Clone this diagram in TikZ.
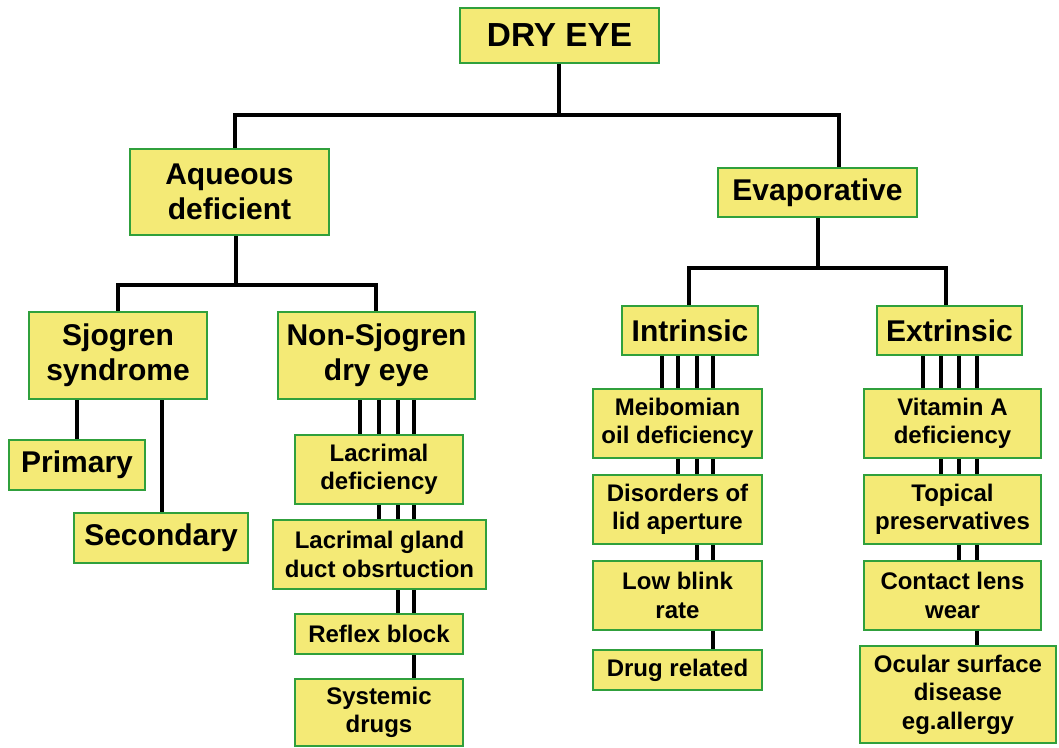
\documentclass[tikz,border=0pt]{standalone}
\usepackage{fontspec}
\setmainfont{Liberation Sans}
\usetikzlibrary{backgrounds}
\definecolor{boxfill}{RGB}{244,234,118}
\definecolor{boxedge}{RGB}{48,160,60}
\tikzset{
  box/.style={draw=boxedge, fill=boxfill, line width=1.5pt, inner sep=0pt, align=center, font=\bfseries},
  big/.style={font=\fontsize{22.5}{26.5}\selectfont\bfseries},
  small/.style={font=\fontsize{18}{21.3}\selectfont\bfseries},
  title/.style={font=\fontsize{25}{30}\selectfont\bfseries},
  conn/.style={line width=3pt, black}
}
\newcommand\bx[7]{\node[box,#7, minimum width={(#4-#2)*0.75pt}, minimum height={(#5-#3)*0.75pt}] (#1) at ({(#2+#4)/2},{(#3+#5)/2}) {#6};}
\begin{document}
\begin{tikzpicture}[x=0.75pt,y=-0.75pt]
\useasboundingbox (0,0) rectangle (1059,747);
\coordinate (j0) at (559,115);
\coordinate (j0l) at (235,115);
\coordinate (j0r) at (839,115);
\coordinate (j1) at (236,285);
\coordinate (j1l) at (118,285);
\coordinate (j1r) at (376,285);
\coordinate (j2) at (818,268);
\coordinate (j2l) at (689,268);
\coordinate (j2r) at (946,268);
% boxes
\bx{dry}{460}{8}{659}{63}{DRY EYE}{title}
\bx{aq}{130}{149}{329}{235}{Aqueous\\deficient}{big}
\bx{ev}{718}{168}{917}{217}{Evaporative}{big}
\bx{sj}{29}{312}{207}{399}{Sjogren\\syndrome}{big}
\bx{ns}{278}{312}{475}{399}{Non-Sjogren\\dry eye}{big}
\bx{pri}{9}{440}{145}{490}{Primary}{big}
\bx{sec}{74}{513}{248}{563}{Secondary}{big}
\bx{lac}{295}{435}{463}{504}{Lacrimal\\deficiency}{small}
\bx{lgd}{273}{520}{486}{589}{Lacrimal gland\\duct obsrtuction}{small}
\bx{ref}{295}{614}{463}{654}{Reflex block}{small}
\bx{sys}{295}{679}{463}{746}{Systemic\\drugs}{small}
\bx{int}{622}{306}{758}{355}{Intrinsic}{big}
\bx{ext}{877}{306}{1022}{355}{Extrinsic}{big}
\bx{mei}{593}{389}{762}{458}{Meibomian\\oil deficiency}{small}
\bx{dis}{593}{475}{762}{544}{Disorders of\\lid aperture}{small}
\bx{low}{593}{561}{762}{630}{Low blink\\rate}{small}
\bx{drg}{593}{650}{762}{690}{Drug related}{small}
\bx{vit}{864}{389}{1041}{458}{Vitamin A\\deficiency}{small}
\bx{top}{864}{475}{1041}{544}{Topical\\preservatives}{small}
\bx{con}{864}{561}{1041}{630}{Contact lens\\wear}{small}
\bx{ocu}{860}{646}{1056}{743}{Ocular surface\\disease\\eg.allergy}{small}
\begin{scope}[on background layer]
\draw[conn] (dry.south -| j0) -- (j0);
\draw[conn] (aq.north -| j0l) -- (j0l) -- (j0r) -- (ev.north -| j0r);
\draw[conn] (aq.south -| j1) -- (j1);
\draw[conn] (sj.north -| j1l) -- (j1l) -- (j1r) -- (ns.north -| j1r);
\draw[conn] (ev.south -| j2) -- (j2);
\draw[conn] (int.north -| j2l) -- (j2l) -- (j2r) -- (ext.north -| j2r);
\coordinate (sp) at (77,0);
\coordinate (ss) at (162,0);
\draw[conn] (sj.south -| sp) -- (pri.north -| sp);
\draw[conn] (sj.south -| ss) -- (sec.north -| ss);
\foreach \x in {360,379,398,414}{\coordinate (c) at (\x,0); \draw[conn] (ns.south -| c) -- (lac.north -| c);}
\foreach \x in {379,398,414}{\coordinate (c) at (\x,0); \draw[conn] (lac.south -| c) -- (lgd.north -| c);}
\foreach \x in {398,414}{\coordinate (c) at (\x,0); \draw[conn] (lgd.south -| c) -- (ref.north -| c);}
\foreach \x in {414}{\coordinate (c) at (\x,0); \draw[conn] (ref.south -| c) -- (sys.north -| c);}
\foreach \x in {662,678,697,713}{\coordinate (c) at (\x,0); \draw[conn] (int.south -| c) -- (mei.north -| c);}
\foreach \x in {678,697,713}{\coordinate (c) at (\x,0); \draw[conn] (mei.south -| c) -- (dis.north -| c);}
\foreach \x in {697,713}{\coordinate (c) at (\x,0); \draw[conn] (dis.south -| c) -- (low.north -| c);}
\foreach \x in {713}{\coordinate (c) at (\x,0); \draw[conn] (low.south -| c) -- (drg.north -| c);}
\foreach \x in {923,941,959,977}{\coordinate (c) at (\x,0); \draw[conn] (ext.south -| c) -- (vit.north -| c);}
\foreach \x in {941,959,977}{\coordinate (c) at (\x,0); \draw[conn] (vit.south -| c) -- (top.north -| c);}
\foreach \x in {959,977}{\coordinate (c) at (\x,0); \draw[conn] (top.south -| c) -- (con.north -| c);}
\foreach \x in {977}{\coordinate (c) at (\x,0); \draw[conn] (con.south -| c) -- (ocu.north -| c);}
\end{scope}
\end{tikzpicture}
\end{document}
